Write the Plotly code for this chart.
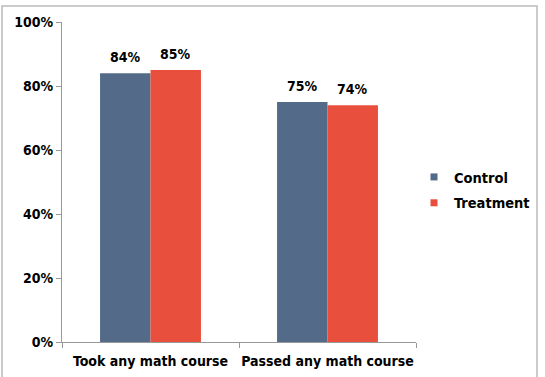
import plotly.graph_objects as go

categories = ["Took any math course", "Passed any math course"]
control = [0.84, 0.75]
treatment = [0.85, 0.74]
tick_vals = [0, 0.2, 0.4, 0.6, 0.8, 1.0]
tick_text = ["0%", "20%", "40%", "60%", "80%", "100%"]
series_names = ["Control", "Treatment"]
series_colors = ["#536A89", "#E94F3D"]

FONT = "DejaVu Sans Condensed"
W, H = 545, 377
L, R, T, B = 62, 545 - 416, 22, 377 - 342

def px_to_paper_x(px):
    return (px - L) / (W - L - R)

def px_to_paper_y(py):
    return (H - B - py) / (H - T - B)

fig = go.Figure()
for name, vals, color in zip(series_names, (control, treatment), series_colors):
    fig.add_trace(go.Bar(
        name=name, x=categories, y=vals, showlegend=False,
        marker=dict(color=color, line=dict(width=0)),
    ))
# legend-only entries with small square markers
for name, color in zip(series_names, series_colors):
    fig.add_trace(go.Scatter(
        name=name, x=[None], y=[None], mode="markers", legendgroup=name,
        marker=dict(symbol="square", size=7, color=color),
    ))

# value labels above each bar
for vals, shift in ((control, -25), (treatment, 25)):
    for c, v in zip(categories, vals):
        fig.add_annotation(x=c, y=v, xref="x", yref="y", text=f"{v:.0%}",
                           showarrow=False, xshift=shift, yshift=6, yanchor="bottom",
                           font=dict(family=FONT, size=14, color="black", weight="bold"))

fig.update_layout(
    width=W, height=H,
    margin=dict(l=L, r=R, t=T, b=B, autoexpand=False),
    paper_bgcolor="white", plot_bgcolor="white",
    barmode="group", bargap=0.43, bargroupgap=0,
    font=dict(family=FONT, size=14, color="black", weight="bold"),
    legend=dict(x=px_to_paper_x(414), y=px_to_paper_y(190), xanchor="left", yanchor="middle",
                font=dict(family=FONT, size=14.5, color="black", weight="bold"),
                itemwidth=30, tracegroupgap=4, traceorder="grouped"),
    showlegend=True,
)
fig.update_xaxes(
    showline=True, linecolor="#999999", linewidth=1,
    ticks="outside", tickson="boundaries", ticklen=5, tickcolor="#999999",
    showgrid=False, tickangle=0, automargin=False, ticklabelstandoff=6,
    tickfont=dict(family=FONT, size=14, color="black", weight="bold"),
)
fig.update_yaxes(
    range=[0, 1], tickvals=tick_vals, ticktext=tick_text,
    showline=True, linecolor="#999999", linewidth=1,
    ticks="outside", ticklen=5, tickcolor="#999999",
    showgrid=False, zeroline=False, automargin=False,
    tickfont=dict(family=FONT, size=14, color="black", weight="bold"),
)
fig.add_shape(type="rect", xref="paper", yref="paper",
              x0=px_to_paper_x(2), x1=px_to_paper_x(537),
              y0=px_to_paper_y(390), y1=px_to_paper_y(6),
              line=dict(color="#BBBBBB", width=1.5), fillcolor="rgba(0,0,0,0)", layer="below")

fig.write_html("out.html")
